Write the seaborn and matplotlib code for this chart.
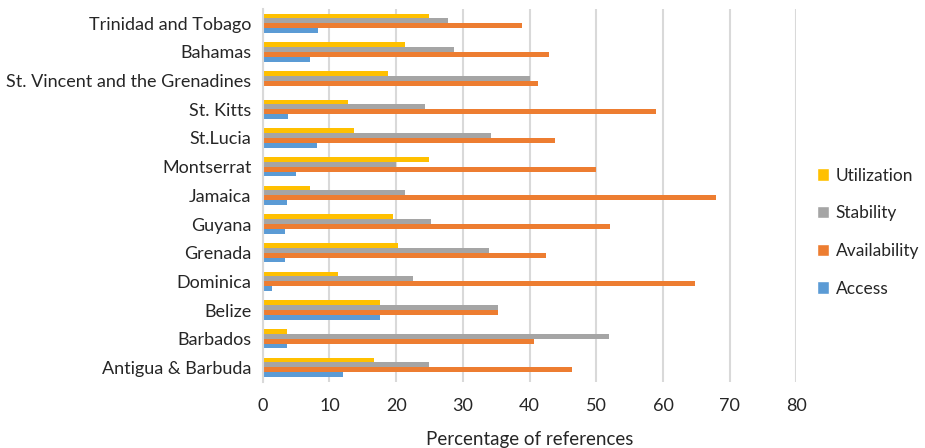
import matplotlib
matplotlib.use("Agg")
import matplotlib.pyplot as plt
import seaborn as sns
import pandas as pd
from matplotlib.patches import Patch

countries = [
    "Trinidad and Tobago", "Bahamas", "St. Vincent and the Grenadines", "St. Kitts",
    "St.Lucia", "Montserrat", "Jamaica", "Guyana", "Grenada", "Dominica",
    "Belize", "Barbados", "Antigua & Barbuda",
]
utilization = [25.0, 21.4, 18.75, 12.8, 13.75, 25.0, 7.1, 19.5, 20.3, 11.3, 17.6, 3.7, 16.7]
stability = [27.8, 28.6, 40.0, 24.3, 34.25, 20.0, 21.4, 25.2, 33.9, 22.5, 35.3, 51.9, 25.0]
availability = [38.9, 42.9, 41.25, 59.0, 43.8, 50.0, 67.9, 52.0, 42.4, 64.8, 35.3, 40.7, 46.3]
access = [8.3, 7.1, 0.0, 3.8, 8.2, 5.0, 3.6, 3.3, 3.4, 1.4, 17.6, 3.7, 12.0]

series = ["Utilization", "Stability", "Availability", "Access"]
colors = {"Utilization": "#FFC000", "Stability": "#A5A5A5",
          "Availability": "#ED7D31", "Access": "#5B9BD5"}

rows = []
for name, vals in zip(series, [utilization, stability, availability, access]):
    for c, v in zip(countries, vals):
        rows.append({"Country": c, "Dimension": name, "Value": v})
df = pd.DataFrame(rows)

sns.set_theme(style="white")
plt.rcParams["font.family"] = ["Lato", "DejaVu Sans"]

fig = plt.figure(figsize=(9.25, 4.48), dpi=100)
ax = fig.add_axes([0.284, 0.148, 0.577, 0.832])

sns.barplot(data=df, y="Country", x="Value", hue="Dimension",
            order=countries, hue_order=series, palette=colors,
            orient="h", width=0.68, gap=0, ax=ax, legend=False,
            saturation=1, edgecolor="none")

ax.set_xlim(0, 80)
ax.set_xticks(range(0, 81, 10))
ax.grid(axis="x", color="#D9D9D9", linewidth=1.5)
ax.set_axisbelow(True)
for s in ["top", "right", "bottom"]:
    ax.spines[s].set_visible(False)
ax.spines["left"].set_color("#D9D9D9")
ax.spines["left"].set_linewidth(1.5)
ax.set_ylabel("")
ax.set_xlabel("Percentage of references", fontsize=13.5, color="#262626", labelpad=12)
ax.tick_params(axis="y", labelsize=13, colors="#262626", length=0, pad=8)
ax.tick_params(axis="x", labelsize=13, colors="#262626", length=0, pad=12)

handles = [Patch(facecolor=colors[s], label=s) for s in series]
fig.legend(handles=handles, loc="center left", bbox_to_anchor=(0.866, 0.482),
           frameon=False, fontsize=12.5, handlelength=0.7, handleheight=0.7,
           handletextpad=0.4, labelspacing=1.25, labelcolor="#262626")

fig.savefig("out.png", dpi=100)
